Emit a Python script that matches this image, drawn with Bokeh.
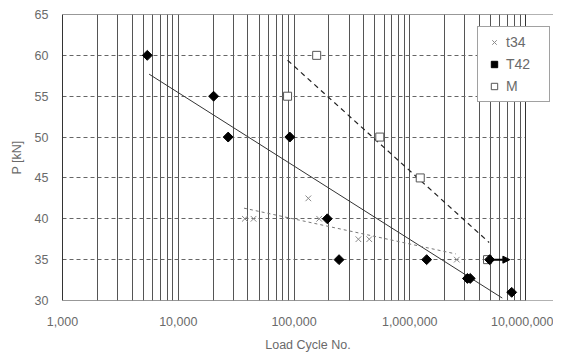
import math
from bokeh.plotting import figure
from bokeh.models import (FixedTicker, NumeralTickFormatter, Legend, LegendItem,
                          Arrow, NormalHead, Range1d, Span, BoxAnnotation)
from bokeh.embed import file_html
from bokeh.resources import INLINE

# ---- data ----
t34_x = [37600, 44700, 133000, 165000, 360000, 447000, 2550000]
t34_y = [40, 40, 42.5, 40, 37.5, 37.5, 35]

t42_x = [5400, 20200, 27000, 92000, 194000, 245000, 1400000, 3150000, 3330000, 4900000, 7600000]
t42_y = [60, 55, 50, 50, 40, 35, 35, 32.7, 32.7, 35, 31]

m_x = [157000, 88000, 551000, 1232000, 4700000]
m_y = [60, 55, 50, 45, 35]

t42_fit_x = [5600, 6300000]
t42_fit_y = [57.7, 30.3]
m_fit_x = [88000, 4850000]
m_fit_y = [59.4, 37.1]
t34_fit_x = [37000, 2500000]
t34_fit_y = [41.3, 35.7]

runout_x = [4900000, 7330000]
runout_y = [35, 35]

x_min, x_max = 1000, 10000000
y_min, y_max = 30, 65
x_major = [1000, 10000, 100000, 1000000, 10000000]
x_minor = [m * 10 ** e for e in range(3, 7) for m in range(2, 10)]
y_ticks = [30, 35, 40, 45, 50, 55, 60, 65]

FONT = "Liberation Sans"
GRAY_TXT = "#6a6a6a"
BORDER = "#333333"

# layout: the data area spans 463 px; the frame is extended to the right so
# that the legend may overhang the right border, as in the reference
W, H = 553, 356
LEFT, RIGHT = 62, 0
DATA_W = 463
frame_w = W - LEFT - RIGHT
decades = math.log10(x_max / x_min)
x_end = x_min * 10 ** (decades * frame_w / DATA_W)

p = figure(width=W, height=H, x_axis_type="log", output_backend="svg",
           toolbar_location=None,
           x_range=Range1d(x_min, x_end), y_range=Range1d(y_min, y_max),
           min_border_left=LEFT, min_border_right=RIGHT, min_border_top=14,
           min_border_bottom=56)

p.outline_line_color = None

# axes
p.xaxis.ticker = FixedTicker(ticks=x_major, minor_ticks=[])
p.xaxis.formatter = NumeralTickFormatter(format="0,0")
p.yaxis.ticker = FixedTicker(ticks=y_ticks)
for ax in (p.xaxis, p.yaxis):
    ax.major_tick_line_color = None
    ax.minor_tick_line_color = None
    ax.major_tick_out = 0
    ax.major_tick_in = 0
    ax.minor_tick_out = 0
    ax.minor_tick_in = 0
    ax.axis_line_color = BORDER
    ax.major_label_text_font = FONT
    ax.major_label_text_font_size = "12.5px"
    ax.major_label_text_color = GRAY_TXT
    ax.axis_label_text_font = FONT
    ax.axis_label_text_font_size = "12.5px"
    ax.axis_label_text_font_style = "normal"
    ax.axis_label_text_color = GRAY_TXT
p.xaxis.axis_line_color = None
p.xaxis.axis_label = "Load Cycle No."
p.yaxis.axis_label = "P [kN]"
p.xaxis.major_label_standoff = 16
p.xaxis.axis_label_standoff = 9
p.yaxis.major_label_standoff = 14
p.yaxis.axis_label_standoff = 8

# grids
p.xgrid.ticker = FixedTicker(ticks=x_major + x_minor)
p.xgrid.grid_line_color = "#555555"
p.xgrid.grid_line_width = 1
p.ygrid.ticker = FixedTicker(ticks=y_ticks[1:-1])
p.ygrid.grid_line_color = "#666666"
p.ygrid.grid_line_dash = "4 3"
p.ygrid.grid_line_width = 1

# trend lines
p.line(t42_fit_x, t42_fit_y, line_color="#333333", line_width=1)
p.line(m_fit_x, m_fit_y, line_color="#222222", line_width=1.2, line_dash="5 4")
p.line(t34_fit_x, t34_fit_y, line_color="#777777", line_width=1, line_dash="3 3")

# points
r_t34 = p.scatter(t34_x, t34_y, marker="x", size=8, line_color="#8a8a8a", line_width=1)
r_m = p.scatter(m_x, m_y, marker="square", size=8, fill_color="white",
                line_color="#555555", line_width=1)
r_t42 = p.scatter(t42_x, t42_y, marker="square", angle=math.pi / 4, size=7,
                  fill_color="black", line_color="black")

# run-out arrow
p.add_layout(Arrow(end=NormalHead(size=7, fill_color="black", line_color="black"),
                   x_start=runout_x[0], y_start=runout_y[0],
                   x_end=runout_x[1], y_end=runout_y[1],
                   line_color="black", line_width=2))

# top / bottom borders, blank strip right of the data area, right border
p.add_layout(Span(location=y_max, dimension="width", line_color=BORDER, line_width=1))
p.add_layout(Span(location=y_min, dimension="width", line_color=BORDER, line_width=1))
p.add_layout(BoxAnnotation(left=x_max, fill_color="white", fill_alpha=1,
                           line_color=None, line_alpha=0))
p.add_layout(Span(location=x_max, dimension="height", line_color=BORDER, line_width=1))

legend = Legend(items=[LegendItem(label="t34", renderers=[r_t34]),
                       LegendItem(label="T42", renderers=[r_t42]),
                       LegendItem(label="M", renderers=[r_m])],
                location=(415, 198), orientation="vertical",
                padding=7, spacing=6, margin=0,
                glyph_width=18, glyph_height=16, label_height=16,
                label_width=36, label_standoff=3,
                label_text_font=FONT, label_text_font_size="14px",
                label_text_color=GRAY_TXT,
                border_line_color="#444444", border_line_width=1,
                background_fill_color="white", background_fill_alpha=1)
p.add_layout(legend, "center")

open("out.html", "w").write(file_html(p, INLINE))
